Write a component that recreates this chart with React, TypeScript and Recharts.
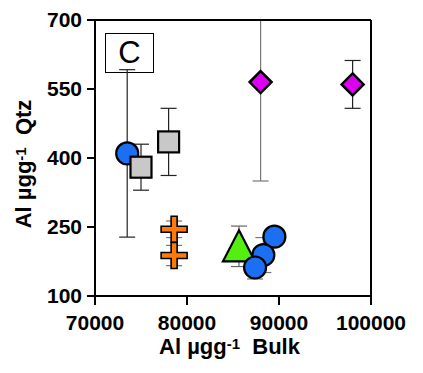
import { ScatterChart, Scatter, XAxis, YAxis, ErrorBar, ReferenceLine } from 'recharts';

// Al in bulk sediment vs Al in quartz separates (mean ± sd)
const bulkAl = [73500, 75000, 78000, 88000, 98000, 78600, 78600, 85650, 89500, 88300, 87400];
const qtzAl = [410, 380, 435, 565, 560, 245, 188, 208, 229, 189, 162];
const qtzSd = [182, 50, 73, 215, 52, 18, 22, 44, 15, 38, 25];

const xTicks = [70000, 80000, 90000, 100000];
const yTicks = [100, 250, 400, 550, 700];

const rows = bulkAl.map((x, i) => ({ x, y: qtzAl[i], sd: qtzSd[i] }));

// which rows belong to which marker group, in drawing order
const groups = [
  { key: 'c1', idx: [0], kind: 'circle', bar: '#222' },
  { key: 'sq', idx: [1, 2], kind: 'square', bar: '#222' },
  { key: 'd1', idx: [3], kind: 'diamond', bar: '#777' },
  { key: 'd2', idx: [4], kind: 'diamond', bar: '#222' },
  { key: 'cr', idx: [5, 6], kind: 'cross', bar: '#777' },
  { key: 'tr', idx: [7], kind: 'triangle', bar: '#666' },
  { key: 'c2', idx: [8, 9, 10], kind: 'circle', bar: '#777' },
];

const FONT = '"Liberation Sans", Arial, Helvetica, sans-serif';

function Marker({ cx, cy, kind }: { cx: number; cy: number; kind: string }) {
  if (cx == null || cy == null) return null;
  switch (kind) {
    case 'circle':
      return <circle cx={cx} cy={cy} r={11} fill="#1a6ff2" stroke="#000" strokeWidth={2.2} />;
    case 'square':
      return <rect x={cx - 10.5} y={cy - 10.5} width={21} height={21} fill="#c8c8c8" stroke="#000" strokeWidth={2.2} />;
    case 'diamond':
      return (
        <path
          d={`M${cx},${cy - 11}L${cx + 11},${cy}L${cx},${cy + 11}L${cx - 11},${cy}Z`}
          fill="#dd00f0"
          stroke="#000"
          strokeWidth={2.5}
        />
      );
    case 'triangle':
      return (
        <path
          d={`M${cx},${cy - 16}L${cx + 16},${cy + 15}L${cx - 16},${cy + 15}Z`}
          fill="#55ee11"
          stroke="#000"
          strokeWidth={2.2}
        />
      );
    case 'cross': {
      const a = 13;
      const t = 3;
      return (
        <path
          d={`M${cx - t},${cy - a}H${cx + t}V${cy - t}H${cx + a}V${cy + t}H${cx + t}V${cy + a}H${cx - t}V${cy + t}H${cx - a}V${cy - t}H${cx - t}Z`}
          fill="#ff7a0a"
          stroke="#000"
          strokeWidth={1.6}
        />
      );
    }
    default:
      return null;
  }
}

const XTitle = (props: any) => {
  const { x, y, width } = props.viewBox;
  return (
    <text x={x + width / 2 - 3.5} y={y + 58} textAnchor="middle" fontFamily={FONT} fontWeight={700} fontSize={22} fill="#000">
      Al µgg
      <tspan dy={-5} fontSize={15}>-1</tspan>
      <tspan dy={5}>{'\u00a0 Bulk'}</tspan>
    </text>
  );
};

const YTitle = (props: any) => {
  const { y, height } = props.viewBox;
  const bx = 31;
  const cy = y + height / 2 + 6;
  return (
    <text
      x={bx}
      y={cy}
      transform={`rotate(-90, ${bx}, ${cy})`}
      textAnchor="middle"
      fontFamily={FONT}
      fontWeight={700}
      fontSize={22}
      fill="#000"
    >
      Al µgg
      <tspan dy={-5} fontSize={15}>-1</tspan>
      <tspan dy={5}>{'\u00a0 Qtz'}</tspan>
    </text>
  );
};

const tickStyle = { fill: '#000', fontSize: 21, fontWeight: 700, fontFamily: FONT };

export default function App() {
  return (
    <div style={{ position: 'absolute', left: 0, top: 0, width: 423, height: 373, background: '#fff' }}>
      {/* panel tag sits under the plot so error bars draw across it */}
      <div
        style={{
          position: 'absolute',
          left: 105,
          top: 33,
          width: 49,
          height: 40,
          boxSizing: 'border-box',
          border: '1px solid #000',
          fontFamily: FONT,
          fontSize: 31,
          lineHeight: '38px',
          textAlign: 'center',
        }}
      >
        C
      </div>
      <div style={{ position: 'absolute', left: 0, top: 0 }}>
        <ScatterChart width={423} height={373} margin={{ top: 20, right: 52, bottom: 0, left: 0 }}>
          <XAxis
            type="number"
            dataKey="x"
            domain={[70000, 100000]}
            ticks={xTicks}
            allowDataOverflow
            height={77}
            tickSize={9}
            tickMargin={10}
            tick={tickStyle}
            axisLine={{ stroke: '#000', strokeWidth: 2 }}
            tickLine={{ stroke: '#000', strokeWidth: 2 }}
            label={<XTitle />}
          />
          <YAxis
            type="number"
            dataKey="y"
            domain={[100, 700]}
            ticks={yTicks}
            allowDataOverflow
            width={95}
            tickSize={8}
            tickMargin={5}
            tick={tickStyle}
            axisLine={{ stroke: '#000', strokeWidth: 2 }}
            tickLine={{ stroke: '#000', strokeWidth: 2 }}
            label={<YTitle />}
          />
          {groups.map((g) => (
            <Scatter
              key={g.key}
              data={g.idx.map((i) => rows[i])}
              isAnimationActive={false}
              shape={(p: any) => <Marker cx={p.cx} cy={p.cy} kind={g.kind} />}
            >
              <ErrorBar dataKey="sd" direction="y" width={8} stroke={g.bar} strokeWidth={1.2} />
            </Scatter>
          ))}
          {/* closing frame on top and right */}
          <ReferenceLine y={700} stroke="#000" strokeWidth={2} />
          <ReferenceLine x={100000} stroke="#000" strokeWidth={2} />
        </ScatterChart>
      </div>
      {/* trim error bars that run past the top of the frame */}
      <div style={{ position: 'absolute', left: 96, top: 0, width: 276, height: 19, background: '#fff' }} />
    </div>
  );
}
